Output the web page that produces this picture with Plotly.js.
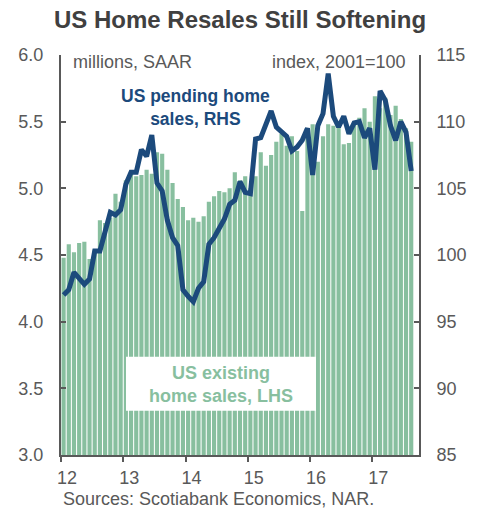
<!DOCTYPE html>
<html>
<head>
<meta charset="utf-8">
<script src="https://cdn.plot.ly/plotly-3.0.1.min.js"></script>
<style>html,body{margin:0;padding:0;background:#fff;}#chart{width:480px;height:508px;}</style>
</head>
<body>
<div id="chart"></div>
<script>
// Monthly categories, Jan 2012 .. Aug 2017
const months = [
  "2012-01","2012-02","2012-03","2012-04","2012-05","2012-06","2012-07","2012-08","2012-09","2012-10","2012-11","2012-12",
  "2013-01","2013-02","2013-03","2013-04","2013-05","2013-06","2013-07","2013-08","2013-09","2013-10","2013-11","2013-12",
  "2014-01","2014-02","2014-03","2014-04","2014-05","2014-06","2014-07","2014-08","2014-09","2014-10","2014-11","2014-12",
  "2015-01","2015-02","2015-03","2015-04","2015-05","2015-06","2015-07","2015-08","2015-09","2015-10","2015-11","2015-12",
  "2016-01","2016-02","2016-03","2016-04","2016-05","2016-06","2016-07","2016-08","2016-09","2016-10","2016-11","2016-12",
  "2017-01","2017-02","2017-03","2017-04","2017-05","2017-06","2017-07","2017-08"
];

// US existing home sales, millions SAAR (LHS)
const existingSales = [
  4.48, 4.58, 4.52, 4.59, 4.60, 4.47, 4.54, 4.76, 4.74, 4.78, 4.96, 4.90,
  5.06, 5.12, 5.09, 5.10, 5.14, 5.11, 5.27, 5.26, 5.14, 5.04, 4.92, 4.86,
  4.76, 4.78, 4.75, 4.79, 4.90, 4.94, 4.98, 4.97, 5.00, 5.12, 5.06, 5.09,
  5.00, 5.09, 5.27, 5.17, 5.25, 5.35, 5.41, 5.32, 5.39, 5.28, 4.83, 5.45,
  5.48, 5.20, 5.39, 5.48, 5.47, 5.48, 5.33, 5.34, 5.50, 5.53, 5.60, 5.50,
  5.69, 5.60, 5.68, 5.55, 5.62, 5.52, 5.45, 5.35
];

// US pending home sales index, 2001=100 (RHS)
const pendingIndex = [
  97.0, 97.4, 98.7, 98.3, 97.8, 98.2, 100.3, 100.3, 101.8, 103.2, 103.0, 103.4,
  105.3, 106.2, 106.2, 107.9, 107.4, 109.0, 105.4, 104.8, 102.6, 101.3, 100.7, 97.4,
  96.9, 96.5, 97.5, 98.0, 100.8, 101.3, 102.0, 102.7, 103.8, 104.1, 105.5, 104.7,
  104.6, 108.7, 108.8, 109.9, 110.8, 109.6, 109.3, 108.9, 107.8, 108.1, 108.6, 109.5,
  106.0, 109.7, 110.6, 113.6, 110.4, 109.6, 110.4, 109.1, 109.9, 110.0, 108.8, 109.5,
  106.4, 112.3, 111.6, 109.7, 108.6, 110.0, 109.2, 106.3
];

// Year tick positions (category boundaries) and labels
const yearTickPos = [-0.5, 11.5, 23.5, 35.5, 47.5, 59.5];
const yearTickText = ["12", "13", "14", "15", "16", "17"];

const FONT = "Liberation Sans, Arial, Helvetica, sans-serif";
const GRAY = "#595959";
const GREEN = "#88bf9f";
const BLUE = "#1c4a7c";

const traces = [
  {
    type: "bar",
    x: months,
    y: existingSales,
    marker: {color: GREEN},
    yaxis: "y",
    hoverinfo: "skip"
  },
  {
    type: "scatter",
    mode: "lines",
    x: months,
    y: pendingIndex,
    line: {color: BLUE, width: 5},
    yaxis: "y2",
    hoverinfo: "skip"
  }
];

const layout = {
  width: 480,
  height: 508,
  margin: {l: 61, r: 61, t: 55, b: 53},
  paper_bgcolor: "#ffffff",
  plot_bgcolor: "#ffffff",
  showlegend: false,
  bargap: 0.2,
  font: {family: FONT, size: 18, color: GRAY},
  title: {
    text: "<b>US Home Resales Still Softening</b>",
    font: {family: FONT, size: 24, color: "#404040"},
    x: 0.5, xanchor: "center",
    yref: "container", y: 1 - 20/508, yanchor: "middle"
  },
  xaxis: {
    type: "category",
    range: [-0.5, 68.5],
    tickmode: "array",
    tickvals: yearTickPos,
    ticktext: yearTickText,
    ticklabelshift: 6,
    ticks: "outside",
    ticklen: 5,
    tickwidth: 2,
    tickcolor: GRAY,
    showline: true,
    linecolor: GRAY,
    linewidth: 2,
    showgrid: false,
    zeroline: false,
    tickfont: {family: FONT, size: 18, color: GRAY}
  },
  yaxis: {
    range: [3, 6],
    tickmode: "linear",
    tick0: 3,
    dtick: 0.5,
    tickformat: ".1f",
    ticks: "inside",
    ticklen: 5,
    tickwidth: 2,
    tickcolor: GRAY,
    showline: true,
    linecolor: GRAY,
    linewidth: 2,
    showgrid: false,
    zeroline: false,
    ticklabelstandoff: 12,
    tickfont: {family: FONT, size: 18, color: GRAY}
  },
  yaxis2: {
    range: [85, 115],
    overlaying: "y",
    side: "right",
    tickmode: "linear",
    tick0: 85,
    dtick: 5,
    ticks: "inside",
    ticklen: 5,
    tickwidth: 2,
    tickcolor: GRAY,
    showline: true,
    linecolor: GRAY,
    linewidth: 2,
    showgrid: false,
    zeroline: false,
    ticklabelstandoff: 12,
    tickfont: {family: FONT, size: 18, color: GRAY}
  },
  shapes: [
    {
      type: "rect", xref: "paper", yref: "paper", layer: "above",
      x0: (126-61)/358, x1: (316-61)/358, y0: (455-410.7)/400, y1: (455-356.7)/400,
      fillcolor: "#ffffff", line: {width: 0}
    }
  ],
  annotations: [
    {
      text: "millions, SAAR", xref: "paper", yref: "paper",
      x: (71-61)/358, y: (455-62)/400, xanchor: "left", yanchor: "middle",
      showarrow: false, font: {family: FONT, size: 18, color: GRAY}
    },
    {
      text: "index, 2001=100", xref: "paper", yref: "paper",
      x: (408-61)/358, y: (455-62)/400, xanchor: "right", yanchor: "middle",
      showarrow: false, font: {family: FONT, size: 18, color: GRAY}
    },
    {
      text: "<b>US pending home<br>sales, RHS</b>", xref: "paper", yref: "paper",
      x: (195-61)/358, y: (455-107.5)/400, xanchor: "center", yanchor: "middle",
      align: "center", showarrow: false, font: {family: FONT, size: 17.5, color: BLUE}
    },
    {
      text: "<b>US existing<br>home sales, LHS</b>", xref: "paper", yref: "paper",
      x: (221-61)/358, y: (455-384.5)/400, xanchor: "center", yanchor: "middle",
      align: "center", showarrow: false, font: {family: FONT, size: 18, color: GREEN}
    },
    {
      text: "Sources: Scotiabank Economics, NAR.", xref: "paper", yref: "paper",
      x: 0, y: (455-499)/400, xanchor: "left", yanchor: "middle",
      showarrow: false, font: {family: FONT, size: 18, color: GRAY}
    }
  ]
};

Plotly.newPlot("chart", traces, layout, {staticPlot: true, displayModeBar: false});
</script>
</body>
</html>
